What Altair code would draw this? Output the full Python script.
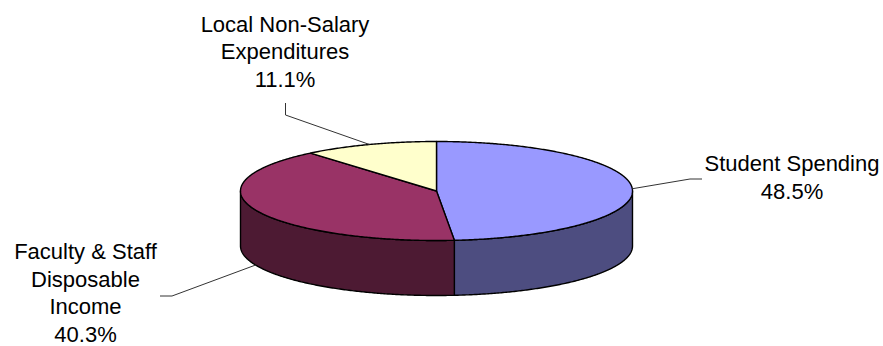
import altair as alt
import numpy as np
import pandas as pd

# ---- data -------------------------------------------------------------
categories = ["Student Spending", "Faculty & Staff Disposable Income", "Local Non-Salary Expenditures"]
values = [48.5, 40.3, 11.1]
label_lines = [["Student Spending"], ["Faculty & Staff", "Disposable", "Income"], ["Local Non-Salary", "Expenditures"]]

# ---- styles / layout ---------------------------------------------------
top_colors = ["#9999FF", "#993366", "#FFFFCC"]
side_colors = ["#4D4D80", "#4D1A33", "#80806A"]
W, H = 883, 346
CX, CY, RX, RY, DEPTH = 436.5, 191.0, 196.0, 49.5, 55.0
FONT, FSIZE, LH = "Liberation Sans", 22, 27.6
label_pos = {  # text centre x, first baseline y
    categories[0]: (792, 171),
    categories[1]: (85.5, 259),
    categories[2]: (285, 31.5),
}
leader_elbows = {
    categories[0]: [(702, 179), (690, 179)],
    categories[1]: [(160, 296), (172, 296)],
    categories[2]: [(285.5, 103), (285.5, 115)],
}
leader_drop = {categories[0]: 0.0, categories[1]: DEPTH, categories[2]: 0.0}


def ell(theta_deg, drop=0.0):
    t = np.radians(theta_deg)
    return CX + RX * np.sin(t), CY - RY * np.cos(t) + drop


# ---- geometry derived from values ---------------------------------------
total = sum(values)
bounds = np.concatenate([[0.0], np.cumsum(values) / total * 360.0])

poly_rows = []
layers_info = []  # (poly id, fill)
pid = 0
# side walls (only the front half, 90..270 deg, is visible)
for i, c in enumerate(categories):
    a, b = max(bounds[i], 90.0), min(bounds[i + 1], 270.0)
    if b <= a:
        continue
    ths = np.linspace(a, b, max(2, int((b - a) * 2)))
    pts = [ell(t) for t in ths] + [ell(t, DEPTH) for t in ths[::-1]]
    for k, (x, y) in enumerate(pts):
        poly_rows.append({"poly": pid, "order": k, "x": x, "y": y})
    layers_info.append((pid, side_colors[i]))
    pid += 1
# top faces
for i, c in enumerate(categories):
    a, b = bounds[i], bounds[i + 1]
    ths = np.linspace(a, b, max(2, int((b - a) * 2)))
    pts = [(CX, CY)] + [ell(t) for t in ths]
    for k, (x, y) in enumerate(pts):
        poly_rows.append({"poly": pid, "order": k, "x": x, "y": y})
    layers_info.append((pid, top_colors[i]))
    pid += 1
polys = pd.DataFrame(poly_rows)

# leader lines
lead_rows = []
for i, c in enumerate(categories):
    mid = (bounds[i] + bounds[i + 1]) / 2
    pts = leader_elbows[c] + [ell(mid, leader_drop[c])]
    for k, (x, y) in enumerate(pts):
        lead_rows.append({"cat": c, "order": k, "x": x, "y": y})
leaders = pd.DataFrame(lead_rows)

# label text lines
text_rows = []
for i, c in enumerate(categories):
    lx, ly = label_pos[c]
    lines = label_lines[i] + [f"{values[i]:.1f}%"]
    for k, t in enumerate(lines):
        text_rows.append({"cat": c, "txt": t, "x": lx, "y": ly + k * LH})
texts = pd.DataFrame(text_rows)

xs = alt.Scale(domain=[0, W], nice=False, zero=False)
ys = alt.Scale(domain=[0, H], nice=False, zero=False, reverse=True)
X = alt.X("x:Q", scale=xs, axis=None)
Y = alt.Y("y:Q", scale=ys, axis=None)

layers = []
for p, col in layers_info:
    layers.append(
        alt.Chart(polys)
        .transform_filter(alt.datum.poly == p)
        .mark_line(interpolate="linear-closed", fill=col, stroke="black",
                   strokeWidth=1.4, strokeJoin="round")
        .encode(x=X, y=Y, order="order:Q")
    )

lead = alt.Chart(leaders).mark_line(stroke="#333333", strokeWidth=1).encode(
    x=X, y=Y, order="order:Q", detail="cat:N")

txt = alt.Chart(texts).mark_text(align="center", baseline="alphabetic", font=FONT,
                                 fontSize=FSIZE, color="black").encode(
    x=X, y=Y, text="txt:N")

chart = alt.layer(*layers, lead, txt).properties(
    width=W, height=H, autosize=alt.AutoSizeParams(type="none"), padding=0
).configure_view(stroke=None)

chart.save("out.html", embed_options={"renderer": "svg", "actions": False})
